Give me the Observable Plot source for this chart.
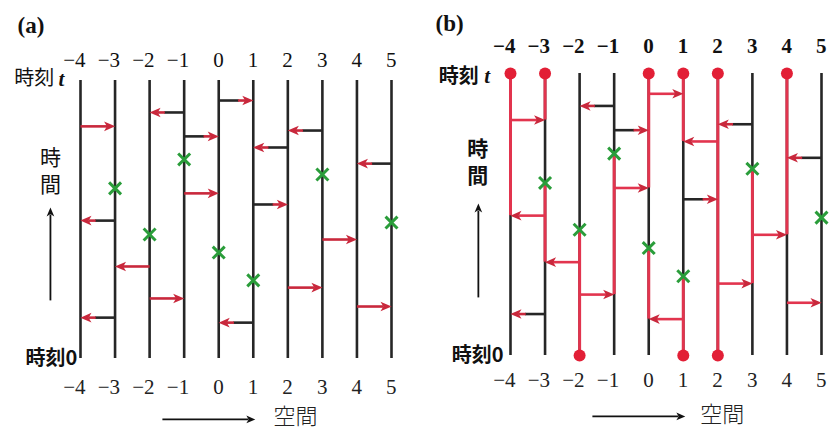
<!DOCTYPE html>
<html><head><meta charset="utf-8">
<script src="https://cdn.jsdelivr.net/npm/d3@7"></script>
<script src="https://cdn.jsdelivr.net/npm/@observablehq/plot@0.6"></script>
<style>
body{margin:0;background:#fff;}
#wrap{display:flex;width:833px;height:429px;overflow:hidden;}
#wrap svg{display:block;background:transparent;}
</style></head><body><div id="wrap"></div>
<script>
// lattice sites (space) and their tick labels
const sites = [-4,-3,-2,-1,0,1,2,3,4,5];
const tickLabels = ["−4","−3","−2","−1","0","1","2","3","4","5"];
// hopping events: from site -> to site at imaginary time (0 = 時刻0 bottom, 100 = 時刻t top)
const hopFrom = [0,-1,-4,3,-1,2,5,-1,1,-3,3,-2,2,-2,4,-3,1];
const hopTo   = [1,-2,-3,2,0,1,4,0,2,-4,4,-3,3,-1,5,-4,0];
const hopTime = [92.8,88.5,83.5,82,79.9,75.9,70.1,59.4,55.4,49.6,42.8,33.1,25.5,21.6,18.7,14.7,12.9];
// shaft drawn red in (a); event belongs to the red path in (b)
const redShaftA = [0,0,1,0,0,0,0,1,0,0,1,1,1,1,1,0,0];
const loopB     = [1,0,1,0,0,1,0,1,0,1,1,1,1,1,1,0,1];
// green crosses
const crossSite = [-1,3,-3,5,-2,0,1];
const crossTime = [71.6,66.2,61.2,48.9,44.6,38.1,28.1];
// (b) red world-line segments
const redSite = [-4,-3,-3,-2,-1,0,0,1,1,2,3,4];
const redFrom = [49.6,83.5,33.1,0,21.6,59.4,12.9,75.9,0,0,25.5,42.8];
const redTo   = [100,100,61.2,44.6,71.6,100,38.1,100,28.1,100,66.2,100];
// (b) end-point dots
const topDots = [-4,-3,0,1,2,4];
const bottomDots = [-2,1,2];

const events = hopFrom.map((f,i)=>({from:f,to:hopTo[i],t:hopTime[i],dir:Math.sign(hopTo[i]-f),redA:!!redShaftA[i],loop:!!loopB[i]}));
const crosses = crossSite.map((s,i)=>({x:s,t:crossTime[i]}));
const redSegs = redSite.map((s,i)=>({x:s,t1:redFrom[i],t2:redTo[i]}));
const ticks = sites.map((s,i)=>({x:s,label:tickLabels[i]}));

const headSymbol = {draw(ctx, size){
  const s = Math.sqrt(size)*0.8;
  ctx.moveTo(0,-s); ctx.lineTo(0.75*s,0.75*s); ctx.lineTo(0,0.3*s); ctx.lineTo(-0.75*s,0.75*s); ctx.closePath();
}};

const BLACK = "#262626", ARED = "#c9283c", LRED = "#e2344e", DOT = "#e21f36", GREEN = "#2a9d3a";
const SERIF = "Liberation Serif, DejaVu Serif, serif";
const CJK = "Noto Sans CJK JP, Noto Sans, sans-serif";

function panel(cfg){
  const marks = [];
  // world lines
  marks.push(Plot.ruleX(sites, {x:d=>d, y1:0, y2:100, stroke:BLACK, strokeWidth:2.6}));
  if (cfg.b){
    marks.push(Plot.ruleX(redSegs, {x:"x", y1:"t1", y2:"t2", stroke:LRED, strokeWidth:3}));
  }
  const isRed = d => cfg.b ? d.loop : d.redA;
  const redCol = cfg.b ? LRED : ARED;
  // arrow shafts
  marks.push(Plot.link(events.filter(d=>isRed(d)), {x1:"from", x2:d=>d.to-d.dir*0.23, y1:"t", y2:"t", stroke:redCol, strokeWidth:2.6}));
  marks.push(Plot.link(events.filter(d=>!isRed(d)), {x1:"from", x2:d=>d.to-d.dir*0.42, y1:"t", y2:"t", stroke:BLACK, strokeWidth:2.6}));
  marks.push(Plot.link(events.filter(d=>!isRed(d)), {x1:d=>d.to-d.dir*0.44, x2:d=>d.to-d.dir*0.23, y1:"t", y2:"t", stroke:ARED, strokeWidth:2.6}));
  // arrow heads
  marks.push(Plot.dot(events, {x:d=>d.to-d.dir*0.18, y:"t", symbol:headSymbol, r:4.5, fill:ARED, stroke:"none", rotate:d=>d.dir>0?90:-90}));
  // crosses
  marks.push(Plot.dot(crosses, {x:"x", y:"t", symbol:"times", r:5.5, stroke:GREEN, strokeWidth:3}));
  if (cfg.b){
    marks.push(Plot.dot(topDots, {x:d=>d, y:100, r:6, fill:DOT, stroke:"none"}));
    marks.push(Plot.dot(bottomDots, {x:d=>d, y:0, r:6, fill:DOT, stroke:"none"}));
  }
  // tick labels
  marks.push(Plot.text(ticks, {x:"x", y:()=>cfg.topT, text:"label", textAnchor:"end", dx:5, fontFamily:SERIF, fontSize:21, fontWeight:cfg.b?"bold":"normal", fill:"#111"}));
  marks.push(Plot.text(ticks, {x:"x", y:()=>cfg.botT, text:"label", textAnchor:"end", dx:5, fontFamily:SERIF, fontSize:21, fill:"#222"}));
  // panel letter
  marks.push(Plot.text([cfg.letter], {x:()=>cfg.letterX, y:()=>cfg.letterT, text:d=>d, textAnchor:"start", fontFamily:SERIF, fontSize:23, fontWeight:"bold", fill:"#111"}));
  // 時刻 t
  marks.push(Plot.text(["時刻"], {x:()=>cfg.jkX, y:()=>cfg.jkT, text:d=>d, textAnchor:"end", fontFamily:CJK, fontSize:20, fontWeight:cfg.b?"bold":"normal", fill:"#111"}));
  marks.push(Plot.text(["t"], {x:()=>cfg.tX, y:()=>cfg.jkT, text:d=>d, textAnchor:"start", fontFamily:SERIF, fontStyle:"italic", fontSize:21, fontWeight:"bold", fill:"#111"}));
  // 時刻0
  marks.push(Plot.text(["時刻0"], {x:()=>cfg.j0X, y:0, text:d=>d, textAnchor:"end", fontFamily:CJK, fontSize:20, fontWeight:"bold", fill:"#111"}));
  // 時間 (vertical, one text with two lines)
  marks.push(Plot.text(["時\n間"], {x:()=>cfg.jiX, y:()=>cfg.jiT, text:d=>d, lineHeight:1.3, fontFamily:CJK, fontSize:21, fontWeight:cfg.b?"bold":"normal", fill:"#111"}));
  // time arrow
  marks.push(Plot.link([0], {x1:()=>cfg.taX, x2:()=>cfg.taX, y1:()=>cfg.taT1, y2:()=>cfg.taT2 - 2.5, stroke:"#111", strokeWidth:1.8}));
  marks.push(Plot.dot([0], {x:()=>cfg.taX, y:()=>cfg.taT2 - 1.8, symbol:headSymbol, r:3.6, fill:"#111", stroke:"none"}));
  // space arrow
  marks.push(Plot.link([0], {x1:()=>cfg.saX1, x2:()=>cfg.saX2 - 0.2, y1:()=>cfg.saT, y2:()=>cfg.saT, stroke:"#111", strokeWidth:1.8}));
  marks.push(Plot.dot([0], {x:()=>cfg.saX2 - 0.15, y:()=>cfg.saT, symbol:headSymbol, r:3.6, fill:"#111", stroke:"none", rotate:90}));
  marks.push(Plot.text(["空間"], {x:()=>cfg.kuX, y:()=>cfg.kuT, text:d=>d, fontFamily:CJK, fontSize:22, fontWeight:300, fill:"#222"}));

  return Plot.plot({
    width: cfg.width, height: 429,
    marginLeft: cfg.ml, marginRight: cfg.mr, marginTop: cfg.mt, marginBottom: cfg.mb,
    x: {domain:[-4,5], axis:null},
    y: {domain:[0,100], axis:null},
    style: {overflow:"visible", background:"transparent"},
    marks
  });
}

const A = panel({b:false, width:416, ml:80, mr:25, mt:80, mb:71, letter:"(a)",
  letterX:-5.82, letterT:119.8, topT:107.3, botT:-10.4,
  jkX:-4.76, tX:-4.64, jkT:100.6, j0X:-4.09,
  jiX:-4.87, jiT:67.8,
  taX:-4.87, taT1:20.9, taT2:54.3,
  saX1:-1.63, saX2:1.06, saT:-21.9, kuX:2.22, kuT:-21.2});
const B = panel({b:true, width:417, ml:94, mr:12, mt:73, mb:74, letter:"(b)",
  letterX:-6.17, letterT:117.7, topT:109.6, botT:-8.9,
  jkX:-4.92, tX:-4.76, jkT:99.0, j0X:-4.2,
  jiX:-4.95, jiT:69.1,
  taX:-4.93, taT1:20.6, taT2:53.9,
  saX1:-1.63, saX2:1.06, saT:-21.6, kuX:2.13, kuT:-21.1});
document.getElementById("wrap").append(A, B);
</script>
</body></html>
